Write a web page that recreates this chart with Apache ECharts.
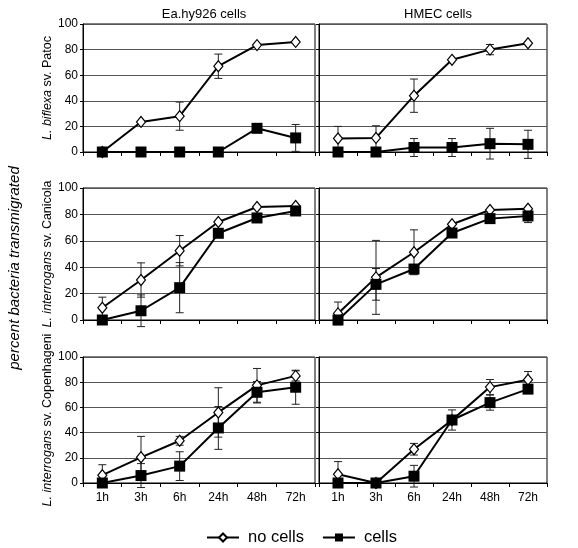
<!DOCTYPE html>
<html>
<head>
<meta charset="utf-8">
<script src="https://cdn.jsdelivr.net/npm/echarts@6/dist/echarts.min.js"></script>
<style>html,body{margin:0;padding:0;background:#fff}#c{width:578px;height:548px}</style>
</head>
<body>
<div id="c"></div>
<script>
const categories = ['1h', '3h', '6h', '24h', '48h', '72h'];
const yTicks = [0, 20, 40, 60, 80, 100];
const colTitles = ['Ea.hy926 cells', 'HMEC cells'];
const rowLabels = ['{i|L. biflexa} sv. Patoc', '{i|L. interrogans} sv. Canicola', '{i|L. interrogans} sv. Copenhageni'];
const yTitle = 'percent bacteria transmigrated';
const seriesNames = ['no cells', 'cells'];

// Row 1: L. biflexa sv. Patoc
const eaPatocNo = [0, 23.5, 28, 67, 83.5, 86];
const eaPatocNoErr = [0, 0, 11, 9.5, 0, 0];
const eaPatocCells = [0, 0, 0, 0, 18.5, 11];
const eaPatocCellsErr = [0, 0, 0, 0, 0, 10.5];
const hmecPatocNo = [10.5, 11, 44, 72, 80, 85];
const hmecPatocNoErr = [9.5, 9.5, 13, 0, 4, 0];
const hmecPatocCells = [0, 0, 3.5, 3.5, 6.5, 6];
const hmecPatocCellsErr = [0, 0, 7, 7, 12, 11];
// Row 2: L. interrogans sv. Canicola
const eaCanicolaNo = [9.3, 30.3, 52.5, 74.2, 85.6, 86.4];
const eaCanicolaNoErr = [8, 13, 11.5, 0, 0, 0];
const eaCanicolaCells = [0, 7, 24.5, 65.7, 77.3, 82.6];
const eaCanicolaCellsErr = [0, 12, 19, 0, 0, 0];
const hmecCanicolaNo = [5, 32.3, 51.3, 72.5, 83.3, 84.3];
const hmecCanicolaNoErr = [8.6, 28, 17, 0, 0, 0];
const hmecCanicolaCells = [0, 27, 38.6, 65.9, 76.8, 78.8];
const hmecCanicolaCellsErr = [0, 12, 3, 0, 0, 5];
// Row 3: L. interrogans sv. Copenhageni
const eaCopenNo = [6.2, 20.4, 33.5, 56, 77.5, 85];
const eaCopenNoErr = [8.3, 16.6, 3.5, 19.6, 13.4, 4];
const eaCopenCells = [0, 5.9, 13.4, 43.7, 72, 76];
const eaCopenCellsErr = [0, 9.5, 11.4, 17, 8.5, 13.5];
const hmecCopenNo = [7, 0, 26.8, 49.9, 76.1, 82];
const hmecCopenNoErr = [10, 0, 4.6, 0, 6, 6.5];
const hmecCopenCells = [0, 0, 5.4, 50, 63.8, 74.5];
const hmecCopenCellsErr = [0, 0, 8.6, 8, 6, 3];

const panels = [
  [eaPatocNo, eaPatocNoErr, eaPatocCells, eaPatocCellsErr],
  [hmecPatocNo, hmecPatocNoErr, hmecPatocCells, hmecPatocCellsErr],
  [eaCanicolaNo, eaCanicolaNoErr, eaCanicolaCells, eaCanicolaCellsErr],
  [hmecCanicolaNo, hmecCanicolaNoErr, hmecCanicolaCells, hmecCanicolaCellsErr],
  [eaCopenNo, eaCopenNoErr, eaCopenCells, eaCopenCellsErr],
  [hmecCopenNo, hmecCopenNoErr, hmecCopenCells, hmecCopenCellsErr]
];

const FONT = 'Liberation Sans, Arial, sans-serif';
const colLeft = [83, 319];
const colWidth = [232, 228];
const rowTop = [24, 188, 357];
const rowHeight = [128, 132, 126];

function errData(vals, errs) {
  const out = [];
  vals.forEach((v, i) => { if (errs[i] > 0) out.push([i, v - errs[i], v + errs[i]]); });
  return out;
}
function renderErr(params, api) {
  const x = api.value(0);
  const lo = api.coord([x, api.value(1)]);
  const hi = api.coord([x, api.value(2)]);
  const w = 4;
  const st = { stroke: '#222', lineWidth: 1 };
  return { type: 'group', children: [
    { type: 'line', shape: { x1: hi[0], y1: hi[1], x2: lo[0], y2: lo[1] }, style: st },
    { type: 'line', shape: { x1: hi[0] - w, y1: hi[1], x2: hi[0] + w, y2: hi[1] }, style: st },
    { type: 'line', shape: { x1: lo[0] - w, y1: lo[1], x2: lo[0] + w, y2: lo[1] }, style: st }
  ]};
}

const grids = [], xAxes = [], yAxes = [], series = [];
for (let r = 0; r < 3; r++) {
  for (let c = 0; c < 2; c++) {
    const k = r * 2 + c;
    grids.push({ left: colLeft[c], top: rowTop[r], width: colWidth[c], height: rowHeight[r],
      show: true, borderColor: '#000', borderWidth: 1, containLabel: false });
    xAxes.push({ type: 'category', gridIndex: k, data: categories, boundaryGap: true,
      axisLine: { lineStyle: { color: '#000', width: 1 } },
      axisTick: { show: true, length: 4, interval: 0, lineStyle: { color: '#000' } },
      axisLabel: { show: r === 2, color: '#000', fontSize: 12, fontFamily: FONT, margin: 9 },
      splitLine: { show: false } });
    yAxes.push({ type: 'value', gridIndex: k, min: yTicks[0], max: yTicks[yTicks.length - 1], interval: 20,
      axisLine: { show: true, lineStyle: { color: '#000', width: 1 } },
      axisTick: { show: true, length: 3, lineStyle: { color: '#000' } },
      axisLabel: { show: c === 0, color: '#000', fontSize: 12, fontFamily: FONT, margin: 5 },
      splitLine: { show: true, lineStyle: { color: '#555', width: 1 } },
      name: c === 0 ? rowLabels[r] : '', nameLocation: 'middle', nameRotate: 90, nameGap: 22,
      nameTextStyle: { color: '#000', fontSize: 12.5, fontFamily: FONT,
        rich: { i: { fontStyle: 'italic', fontSize: 12.5, fontFamily: FONT, color: '#000' } } } });
    const [no, noErr, cells, cellsErr] = panels[k];
    series.push({ type: 'custom', xAxisIndex: k, yAxisIndex: k, renderItem: renderErr,
      data: errData(no, noErr), z: 1, silent: true });
    series.push({ type: 'custom', xAxisIndex: k, yAxisIndex: k, renderItem: renderErr,
      data: errData(cells, cellsErr), z: 1, silent: true });
    series.push({ type: 'line', name: seriesNames[0], xAxisIndex: k, yAxisIndex: k, data: no,
      symbol: 'diamond', symbolSize: [9, 11], showAllSymbol: true,
      lineStyle: { color: '#000', width: 2 },
      itemStyle: { color: '#fff', borderColor: '#000', borderWidth: 1.2 }, z: 3, animation: false });
    series.push({ type: 'line', name: seriesNames[1], xAxisIndex: k, yAxisIndex: k, data: cells,
      symbol: 'rect', symbolSize: 11, showAllSymbol: true,
      lineStyle: { color: '#000', width: 2 },
      itemStyle: { color: '#000', borderColor: '#000', borderWidth: 0 }, z: 4, animation: false });
  }
}

const chart = echarts.init(document.getElementById('c'), null, { renderer: 'canvas' });
chart.setOption({
  animation: false,
  backgroundColor: '#fff',
  title: [
    { text: colTitles[0], left: colLeft[0] + colWidth[0] / 2, top: 3, textAlign: 'center',
      textStyle: { fontSize: 13, fontWeight: 'normal', color: '#000', fontFamily: FONT } },
    { text: colTitles[1], left: colLeft[1] + colWidth[1] / 2, top: 3, textAlign: 'center',
      textStyle: { fontSize: 13, fontWeight: 'normal', color: '#000', fontFamily: FONT } }
  ],
  legend: {
    data: seriesNames, top: 524, left: 201, itemGap: 18, itemWidth: 32, itemHeight: 10,
    textStyle: { fontSize: 16.5, color: '#000', fontFamily: FONT, padding: [0, 0, 0, 4] }
  },
  graphic: [{
    type: 'text', x: 15, y: 268, rotation: Math.PI / 2,
    style: { text: yTitle, font: 'italic 15px ' + FONT, fill: '#000', textAlign: 'center', textVerticalAlign: 'middle' }
  }],
  grid: grids, xAxis: xAxes, yAxis: yAxes, series: series
});
</script>
</body>
</html>
